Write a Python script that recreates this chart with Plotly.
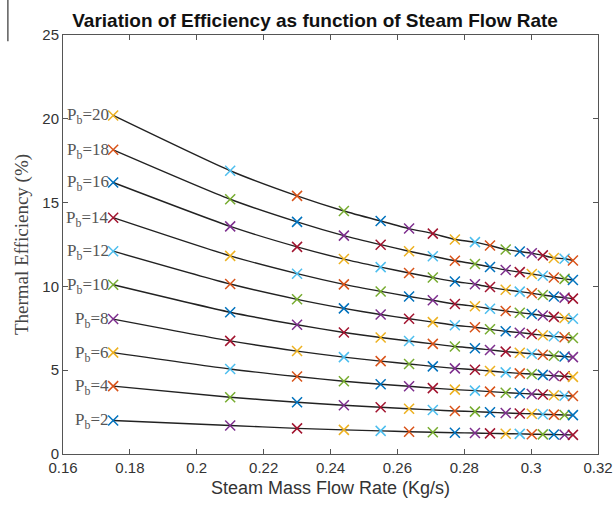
import plotly.graph_objects as go

# Steam mass flow rate (kg/s)
flow = [0.175, 0.21, 0.23, 0.244, 0.255, 0.2635, 0.2706, 0.2772, 0.2832,
        0.2877, 0.2924, 0.2966, 0.3002, 0.3035, 0.3068, 0.310, 0.3125]

pb_levels = [2, 4, 6, 8, 10, 12, 14, 16, 18, 20]

eff_pb2 = [2.0, 1.70, 1.53, 1.44, 1.38, 1.33, 1.30, 1.27, 1.25, 1.23, 1.21, 1.20, 1.18, 1.17, 1.16, 1.15, 1.14]
eff_pb4 = [4.05, 3.39, 3.09, 2.91, 2.79, 2.70, 2.63, 2.57, 2.53, 2.49, 2.45, 2.42, 2.40, 2.37, 2.35, 2.33, 2.32]
eff_pb6 = [6.05, 5.07, 4.62, 4.34, 4.16, 4.04, 3.93, 3.84, 3.78, 3.72, 3.66, 3.62, 3.58, 3.55, 3.51, 3.48, 3.46]
eff_pb8 = [8.05, 6.75, 6.14, 5.78, 5.54, 5.37, 5.23, 5.11, 5.03, 4.95, 4.87, 4.81, 4.77, 4.72, 4.67, 4.64, 4.60]
eff_pb10 = [10.1, 8.46, 7.71, 7.25, 6.95, 6.74, 6.57, 6.41, 6.31, 6.21, 6.11, 6.04, 5.98, 5.92, 5.86, 5.82, 5.78]
eff_pb12 = [12.1, 10.14, 9.23, 8.69, 8.32, 8.07, 7.87, 7.68, 7.56, 7.44, 7.32, 7.24, 7.16, 7.09, 7.02, 6.97, 6.92]
eff_pb14 = [14.1, 11.82, 10.76, 10.12, 9.70, 9.40, 9.17, 8.95, 8.81, 8.67, 8.53, 8.43, 8.35, 8.26, 8.18, 8.12, 8.07]
eff_pb16 = [16.2, 13.58, 12.36, 11.63, 11.15, 10.80, 10.53, 10.29, 10.13, 9.96, 9.80, 9.69, 9.59, 9.49, 9.40, 9.33, 9.27]
eff_pb18 = [18.15, 15.20, 13.85, 13.03, 12.49, 12.10, 11.80, 11.53, 11.34, 11.16, 10.98, 10.85, 10.74, 10.64, 10.53, 10.45, 10.38]
eff_pb20 = [20.2, 16.9, 15.4, 14.5, 13.9, 13.45, 13.15, 12.80, 12.64, 12.44, 12.20, 12.08, 11.98, 11.85, 11.70, 11.65, 11.55]

series = [eff_pb2, eff_pb4, eff_pb6, eff_pb8, eff_pb10,
          eff_pb12, eff_pb14, eff_pb16, eff_pb18, eff_pb20]

palette = ["#0072BD", "#D95319", "#EDB120", "#7E2F8E",
           "#77AC30", "#4DBEEE", "#A2142F"]

fig = go.Figure()

# fitted black curves
for i, ys in enumerate(series):
    fig.add_trace(go.Scatter(x=flow, y=ys, mode="lines",
                             line=dict(color="#222222", width=1.4, shape="spline", smoothing=0.6),
                             hoverinfo="skip", showlegend=False))

# markers, colours cycling as plotted column by column
for i, ys in enumerate(series):
    cols = [palette[(10 * j + i) % 7] for j in range(len(flow))]
    fig.add_trace(go.Scatter(x=flow, y=ys, mode="markers",
                             marker=dict(symbol="x-thin-open", size=10, color=cols,
                                         line=dict(color=cols, width=1.5)),
                             showlegend=False))

# P_b labels
for pb, ys in zip(pb_levels, series):
    fig.add_annotation(x=flow[0], y=ys[0], xref="x", yref="y",
                       text=f"P<sub>b</sub>={pb}", showarrow=False,
                       xanchor="right", yanchor="middle", xshift=-2, yshift=-1,
                       font=dict(family="Liberation Serif", size=17, color="#555555"))

axis_common = dict(showline=True, linecolor="#555555", linewidth=1, mirror="ticks",
                   ticks="inside", ticklen=5, tickcolor="#555555", showgrid=False,
                   zeroline=False, automargin=False,
                   tickfont=dict(family="Liberation Sans", size=15, color="#333333"))

fig.update_xaxes(range=[0.16, 0.32], tickvals=[0.16, 0.18, 0.2, 0.22, 0.24, 0.26, 0.28, 0.3, 0.32],
                 title=dict(text="Steam Mass Flow Rate (Kg/s)", standoff=6,
                            font=dict(family="Liberation Sans", size=18, color="#333333")),
                 **axis_common)
fig.update_yaxes(range=[0, 25], tickvals=[0, 5, 10, 15, 20, 25],
                 title=dict(text="Thermal Efficiency (%)", standoff=8,
                            font=dict(family="Liberation Serif", size=19, color="#444444")),
                 **axis_common)

# small scan artifact at the top-left edge
fig.add_shape(type="line", xref="paper", yref="paper", x0=-0.103, x1=-0.103, y0=1.085, y1=0.985,
              line=dict(color="#333333", width=1.2))

fig.update_layout(
    width=613, height=510,
    margin=dict(l=63, r=15, t=35, b=56),
    paper_bgcolor="white", plot_bgcolor="white",
    title=dict(text="<b>Variation of Efficiency as function of Steam Flow Rate</b>",
               x=0.514, xanchor="center", y=0.961, yanchor="middle",
               font=dict(family="Liberation Sans", size=19, color="#111111")),
)

fig.write_html("out.html")
